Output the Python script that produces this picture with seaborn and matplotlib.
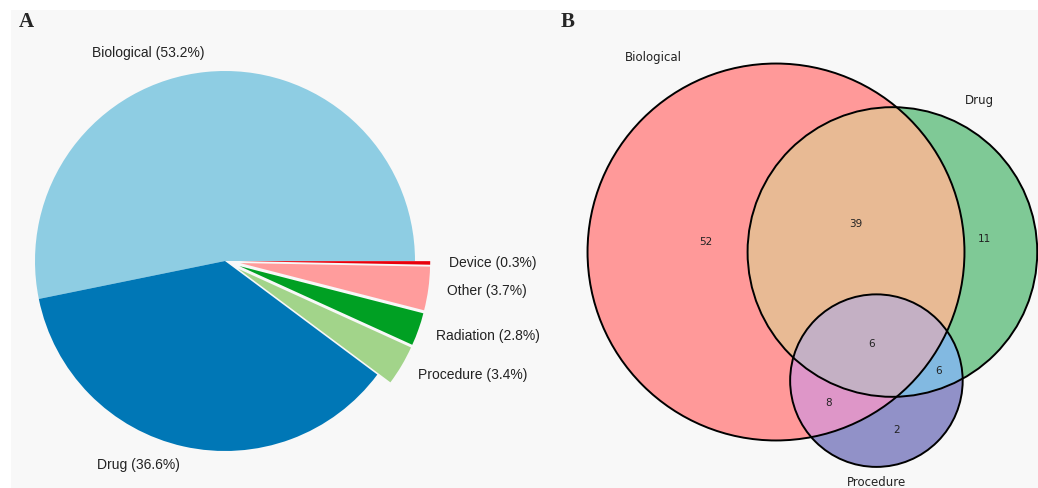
import numpy as np
import matplotlib
matplotlib.use("Agg")
import matplotlib.pyplot as plt
from matplotlib.patches import Circle, Polygon, Rectangle
import seaborn as sns

# ---- panel A: intervention types ----
categories = ["Biological", "Drug", "Procedure", "Radiation", "Other", "Device"]
shares = [53.2, 36.6, 3.4, 2.8, 3.7, 0.3]
pie_colors = ["#8ecde3", "#0077b6", "#a2d48a", "#00a023", "#ff9c9c", "#e8000b"]

# ---- panel B: overlap of intervention types ----
set_names = ["Biological", "Drug", "Procedure"]
region_keys = ["100", "010", "001", "110", "101", "011", "111"]
region_counts = [52, 11, 2, 39, 8, 6, 6]
region_colors = ["#ff9999", "#7fc996", "#9191c8", "#e8ba94", "#de96c8", "#82b9e1", "#c4b0c4"]


def lens_area(r1, r2, d):
    if d >= r1 + r2:
        return 0.0
    if d <= abs(r1 - r2):
        return np.pi * min(r1, r2) ** 2
    a1 = r1 ** 2 * np.arccos((d ** 2 + r1 ** 2 - r2 ** 2) / (2 * d * r1))
    a2 = r2 ** 2 * np.arccos((d ** 2 + r2 ** 2 - r1 ** 2) / (2 * d * r2))
    k = 0.5 * np.sqrt((-d + r1 + r2) * (d + r1 - r2) * (d - r1 + r2) * (d + r1 + r2))
    return a1 + a2 - k


def find_distance(r1, r2, area):
    lo, hi = abs(r1 - r2), r1 + r2
    for _ in range(100):
        mid = 0.5 * (lo + hi)
        if lens_area(r1, r2, mid) > area:
            lo = mid
        else:
            hi = mid
    return 0.5 * (lo + hi)


def venn_layout(unit):
    sizes = [sum(c for k, c in zip(region_keys, region_counts) if k[i] == "1") for i in range(3)]
    pair = {}
    for i in range(3):
        for j in range(i + 1, 3):
            pair[(i, j)] = sum(c for k, c in zip(region_keys, region_counts)
                               if k[i] == "1" and k[j] == "1")
    radii = [unit * np.sqrt(s / np.pi) for s in sizes]
    area = lambda n: n * unit ** 2
    d_ab = find_distance(radii[0], radii[1], area(pair[(0, 1)]))
    d_ac = find_distance(radii[0], radii[2], area(pair[(0, 2)]))
    d_bc = find_distance(radii[1], radii[2], area(pair[(1, 2)]))
    cx = (d_ab ** 2 + d_ac ** 2 - d_bc ** 2) / (2 * d_ab)
    cy = np.sqrt(max(d_ac ** 2 - cx ** 2, 0))
    # y grows downward on the pixel axes, so C sits below A and B
    centers = np.array([[0.0, 0.0], [d_ab, 0.0], [cx, cy]])
    return centers, radii


sns.set_theme(style="white")
plt.rcParams["font.family"] = ["DejaVu Sans"]

W, H = 1038, 488
fig = plt.figure(figsize=(W / 100, H / 100), dpi=100)
fig.patch.set_facecolor("white")
fig.add_artist(Rectangle((11 / W, 0), 1, 1 - 10 / H, transform=fig.transFigure,
                         facecolor="#f8f8f8", edgecolor="none", zorder=-1))

# ---- pie ----
pie_cx, pie_cy, pie_r = 225, 261, 190
side = 2.5 * pie_r
ax_a = fig.add_axes([(pie_cx - side / 2) / W, (H - pie_cy - side / 2) / H, side / W, side / H])
labels = [f"{c} ({s}%)" for c, s in zip(categories, shares)]
explode = [0 if s > 10 else 0.08 for s in shares]
ax_a.pie(shares, labels=labels, colors=sns.color_palette(pie_colors), explode=explode,
         startangle=0, counterclock=True, labeldistance=1.1,
         wedgeprops=dict(linewidth=0),
         textprops=dict(fontsize=10, family=["Liberation Sans"], color="#222222"))
ax_a.set_xlim(-1.25, 1.25)
ax_a.set_ylim(-1.25, 1.25)
ax_a.set_aspect("equal")
ax_a.axis("off")

# ---- venn ----
ax_b = fig.add_axes([0, 0, 1, 1])
ax_b.set_xlim(0, W)
ax_b.set_ylim(H, 0)
ax_b.axis("off")
ax_b.patch.set_visible(False)

centers, radii = venn_layout(unit=32.6)
centers = centers + np.array([776, 252])

def circ(i, **kw):
    return Circle(centers[i], radii[i], transform=ax_b.transData, **kw)

# painter's order with clipping to get each region its own colour
col = dict(zip(region_keys, region_colors))
for i, key in enumerate(["100", "010", "001"]):
    ax_b.add_patch(circ(i, facecolor=col[key], edgecolor="none", clip_on=False))
for draw, clip, key in [(1, 0, "110"), (2, 0, "101"), (2, 1, "011")]:
    p = circ(draw, facecolor=col[key], edgecolor="none")
    ax_b.add_patch(p)
    p.set_clip_path(circ(clip))

# lens A & B as polygon, triple region is circle C clipped to it
t = np.linspace(0, 2 * np.pi, 720, endpoint=False)
pts = []
for i, j in [(0, 1), (1, 0)]:
    ring = centers[i] + radii[i] * np.c_[np.cos(t), np.sin(t)]
    keep = np.hypot(*(ring - centers[j]).T) <= radii[j]
    pts.append(ring[keep])
pts = np.vstack(pts)
mid = pts.mean(0)
pts = pts[np.argsort(np.arctan2(pts[:, 1] - mid[1], pts[:, 0] - mid[0]))]
lens = Polygon(pts, closed=True, transform=ax_b.transData)
p = circ(2, facecolor=col["111"], edgecolor="none")
ax_b.add_patch(p)
p.set_clip_path(lens)

for i in range(3):
    ax_b.add_patch(circ(i, fill=False, edgecolor="black", linewidth=1.4, clip_on=False))

# subset labels at the centre of mass of each region
x0 = int(centers[:, 0].min() - max(radii)) - 2
x1 = int(centers[:, 0].max() + max(radii)) + 2
y0 = int(centers[:, 1].min() - max(radii)) - 2
y1 = int(centers[:, 1].max() + max(radii)) + 2
gx, gy = np.meshgrid(np.arange(x0, x1, 1.0), np.arange(y0, y1, 1.0))
inside = [np.hypot(gx - c[0], gy - c[1]) <= r for c, r in zip(centers, radii)]
for key, count in zip(region_keys, region_counts):
    m = np.ones_like(gx, dtype=bool)
    for i, ch in enumerate(key):
        m &= inside[i] if ch == "1" else ~inside[i]
    ax_b.text(gx[m].mean(), gy[m].mean(), str(count), fontsize=7.5,
              ha="center", va="center", color="#222222")

# set labels
(ax_, ay_), (bx_, by_), (cx_, cy_) = centers
ax_b.text(ax_ - radii[0] / 2, ay_ - radii[0], set_names[0], fontsize=8.5,
          ha="right", va="bottom", color="#222222")
ax_b.text(bx_ + radii[1] / 2, by_ - radii[1], set_names[1], fontsize=8.5,
          ha="left", va="bottom", color="#222222")
ax_b.text(cx_, cy_ + radii[2] * 1.1, set_names[2], fontsize=8.5,
          ha="center", va="top", color="#222222")

# panel letters
for letter, px in [("A", 26), ("B", 568)]:
    fig.text(px / W, 1 - 22 / H, letter, fontsize=15, fontweight="bold",
             family=["Liberation Serif"], ha="center", va="center")

fig.savefig("out.png", dpi=100)
